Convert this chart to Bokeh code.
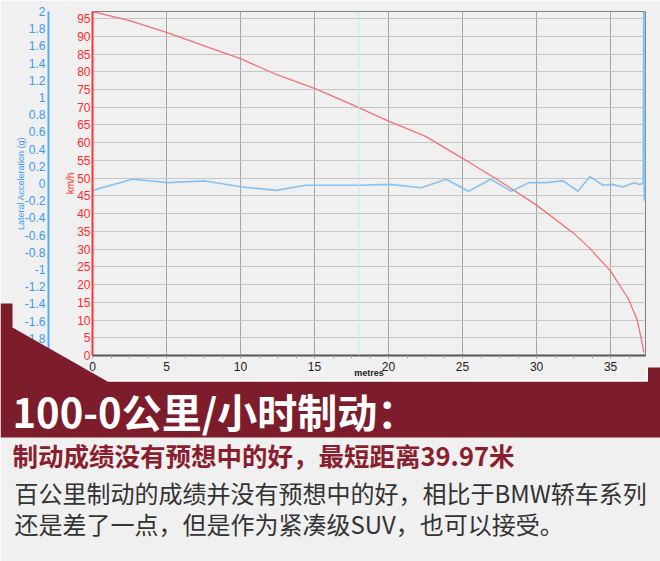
from bokeh.plotting import figure
from bokeh.models import (Range1d, LinearAxis, FixedTicker, SingleIntervalTicker, Span,
                          CustomJSTickFormatter)
from bokeh.core.properties import value
from bokeh.embed import file_html
from bokeh.resources import INLINE

# ---------------- data ----------------
speed_distance_m = [0, 2.5, 5, 7.5, 10, 12.5, 15, 17.5, 20, 22.5, 25, 27.5, 30, 32.5,
                    33.6, 35, 36.2, 36.8, 37.1, 37.25]
speed_kmh = [97, 94.4, 91.1, 87.4, 83.7, 79.1, 75.3, 70.8, 66.1, 61.8, 55.6, 49.2, 42.4,
             34.5, 30.2, 23.8, 16.0, 10.0, 4.2, 0.8]

lat_distance_m = [0, 2.7, 5.1, 7.6, 10.1, 12.4, 14.4, 18.0, 20.1, 22.2, 23.9, 25.4, 26.9,
                  28.3, 29.5, 30.6, 31.8, 32.8, 33.6, 34.5, 35.1, 35.8, 36.6, 36.9, 37.2,
                  37.24, 37.27, 37.3, 37.33]
lat_accel_g = [-0.08, 0.05, 0.01, 0.03, -0.04, -0.08, -0.02, -0.02, -0.01, -0.05, 0.05,
               -0.09, 0.05, -0.09, 0.01, 0.01, 0.03, -0.09, 0.08, -0.02, -0.01, -0.04,
               0.01, -0.01, 0.0, 2.0, -0.2, 2.0, -0.2]

g_ticks = [-1.8, -1.6, -1.4, -1.2, -1.0, -0.8, -0.6, -0.4, -0.2, 0.0, 0.2, 0.4, 0.6, 0.8,
           1.0, 1.2, 1.4, 1.6, 1.8, 2.0]
marker_distance_m = 18.0

title_text = "100-0公里/小时制动："
subtitle_text = "制动成绩没有预想中的好，最短距离39.97米"
body_lines = ["百公里制动的成绩并没有预想中的好，相比于BMW轿车系列",
              "还是差了一点，但是作为紧凑级SUV，也可以接受。"]

# ---------------- layout constants ----------------
W = 660
TOP_H = 390            # chart figure height
OVERLAP = 90           # banner figure overlaps the chart figure's bottom
BOT_H = 561 - TOP_H + OVERLAP
BG = "#f0f0f0"
MAROON = "#7d1d2b"
RED = "#ff2b2b"
BLUE = "#3a9af0"

# ---------------- chart ----------------
p = figure(width=W, height=TOP_H, output_backend="svg", toolbar_location=None,
           x_range=Range1d(0, 37.36), y_range=Range1d(0, 97),
           min_border_left=92, min_border_right=15, min_border_top=11,
           min_border_bottom=TOP_H - 355,
           background_fill_color=BG, border_fill_color=BG)
p.extra_y_ranges = {"g": Range1d(-2, 2)}
p.outline_line_color = "#808080"

xt = SingleIntervalTicker(interval=5, num_minor_ticks=4)
xa = p.xaxis[0]
xa.ticker = xt
p.xgrid[0].ticker = xt
xa.axis_line_color = "#555555"
xa.axis_line_width = 2
xa.major_tick_out = 0
xa.major_tick_in = 0
xa.minor_tick_out = 3
xa.minor_tick_in = 0
xa.minor_tick_line_color = "#a0a0a0"
xa.major_label_text_font = "Liberation Sans"
xa.major_label_text_font_size = "12px"
xa.major_label_text_color = "#222222"
xa.major_label_standoff = 3
xa.axis_label = "metres"
xa.axis_label_text_font = "Liberation Sans"
xa.axis_label_text_font_size = "9px"
xa.axis_label_text_font_style = "bold"
xa.axis_label_text_color = "#222222"
xa.axis_label_standoff = -6

yt = SingleIntervalTicker(interval=5, num_minor_ticks=0)
ya = p.yaxis[0]
ya.ticker = yt
p.ygrid[0].ticker = yt
ya.axis_line_color = "#ff3333"
ya.axis_line_width = 2
ya.major_tick_out = 0
ya.major_tick_in = 0
ya.minor_tick_line_color = None
ya.major_label_text_font = "Liberation Sans"
ya.major_label_text_font_size = "12px"
ya.major_label_text_color = RED
ya.major_label_standoff = 2
ya.axis_label = "km/h"
ya.axis_label_text_font = "Liberation Sans"
ya.axis_label_text_font_size = "10px"
ya.axis_label_text_font_style = "normal"
ya.axis_label_text_color = RED
ya.axis_label_standoff = -2

spacer = LinearAxis(ticker=FixedTicker(ticks=[]), axis_line_color=None,
                    major_tick_line_color=None, minor_tick_line_color=None,
                    major_label_standoff=0, axis_label=" ",
                    axis_label_text_font_size="9.5px", axis_label_standoff=0)
p.add_layout(spacer, "left")

ga = LinearAxis(y_range_name="g", ticker=FixedTicker(ticks=g_ticks),
                formatter=CustomJSTickFormatter(code="return String(Math.round(tick*10)/10);"))
ga.axis_line_color = "#55aaff"
ga.axis_line_width = 2
ga.major_tick_out = 0
ga.major_tick_in = 0
ga.minor_tick_line_color = None
ga.major_label_text_font = "Liberation Sans"
ga.major_label_text_font_size = "12px"
ga.major_label_text_color = BLUE
ga.major_label_standoff = 3
ga.axis_label = "Lateral Acceleration (g)"
ga.axis_label_text_font = "Liberation Sans"
ga.axis_label_text_font_size = "9px"
ga.axis_label_text_font_style = "normal"
ga.axis_label_text_color = BLUE
ga.axis_label_standoff = -4
p.add_layout(ga, "left")

p.xgrid.grid_line_color = "#a6a6a6"
p.ygrid.grid_line_color = "#c6c6c6"

p.add_layout(Span(location=marker_distance_m, dimension="height",
                  line_color="#b5eef5", line_width=1))

p.line(speed_distance_m, speed_kmh, line_color="#f27272", line_width=1.3)
p.line(lat_distance_m, lat_accel_g, y_range_name="g", line_color="#88c2f2", line_width=1.6)

# ---------------- banner & text (pixel coordinates of the page) ----------------
y_top = TOP_H - OVERLAP
b = figure(width=W, height=BOT_H, output_backend="svg", toolbar_location=None,
           x_range=Range1d(0, W), y_range=Range1d(561, y_top),
           x_axis_type=None, y_axis_type=None, min_border=0,
           background_fill_color=None, border_fill_color=None)
b.outline_line_color = None
b.styles = {"margin-top": f"-{OVERLAP}px"}

b.patch([0, W, W, 0], [TOP_H, TOP_H, 561, 561], fill_color=BG, line_color=None)
red_x = [0, 12, 12, 107, 647, 647, 660, 660, 0]
red_y = [303, 303, 327, 381, 381, 367, 367, 437, 437]
b.patch(red_x, red_y, fill_color=MAROON, line_color=None)
b.patch([107, 646, 646, 647.5, 647.5, 107], [379.5, 379.5, 367, 367, 381, 381],
        fill_color="white", line_color=None)

b.text(x=[12], y=[410], text=[title_text], text_font=value("Noto Sans CJK SC"),
       text_font_style="bold", text_font_size=value("40px"), text_color="white",
       text_baseline="middle", text_align="left")
b.text(x=[12], y=[454], text=[subtitle_text], text_font=value("Noto Sans CJK SC"),
       text_font_style="bold", text_font_size=value("25.5px"), text_color="#8a1e2e",
       text_baseline="middle", text_align="left")
b.text(x=[14, 14], y=[492, 523], text=body_lines, text_font=value("Noto Sans CJK SC"),
       text_font_size=value("24px"), text_color="#333333",
       text_baseline="middle", text_align="left")

open("out.html", "w").write(file_html((p, b), INLINE))
